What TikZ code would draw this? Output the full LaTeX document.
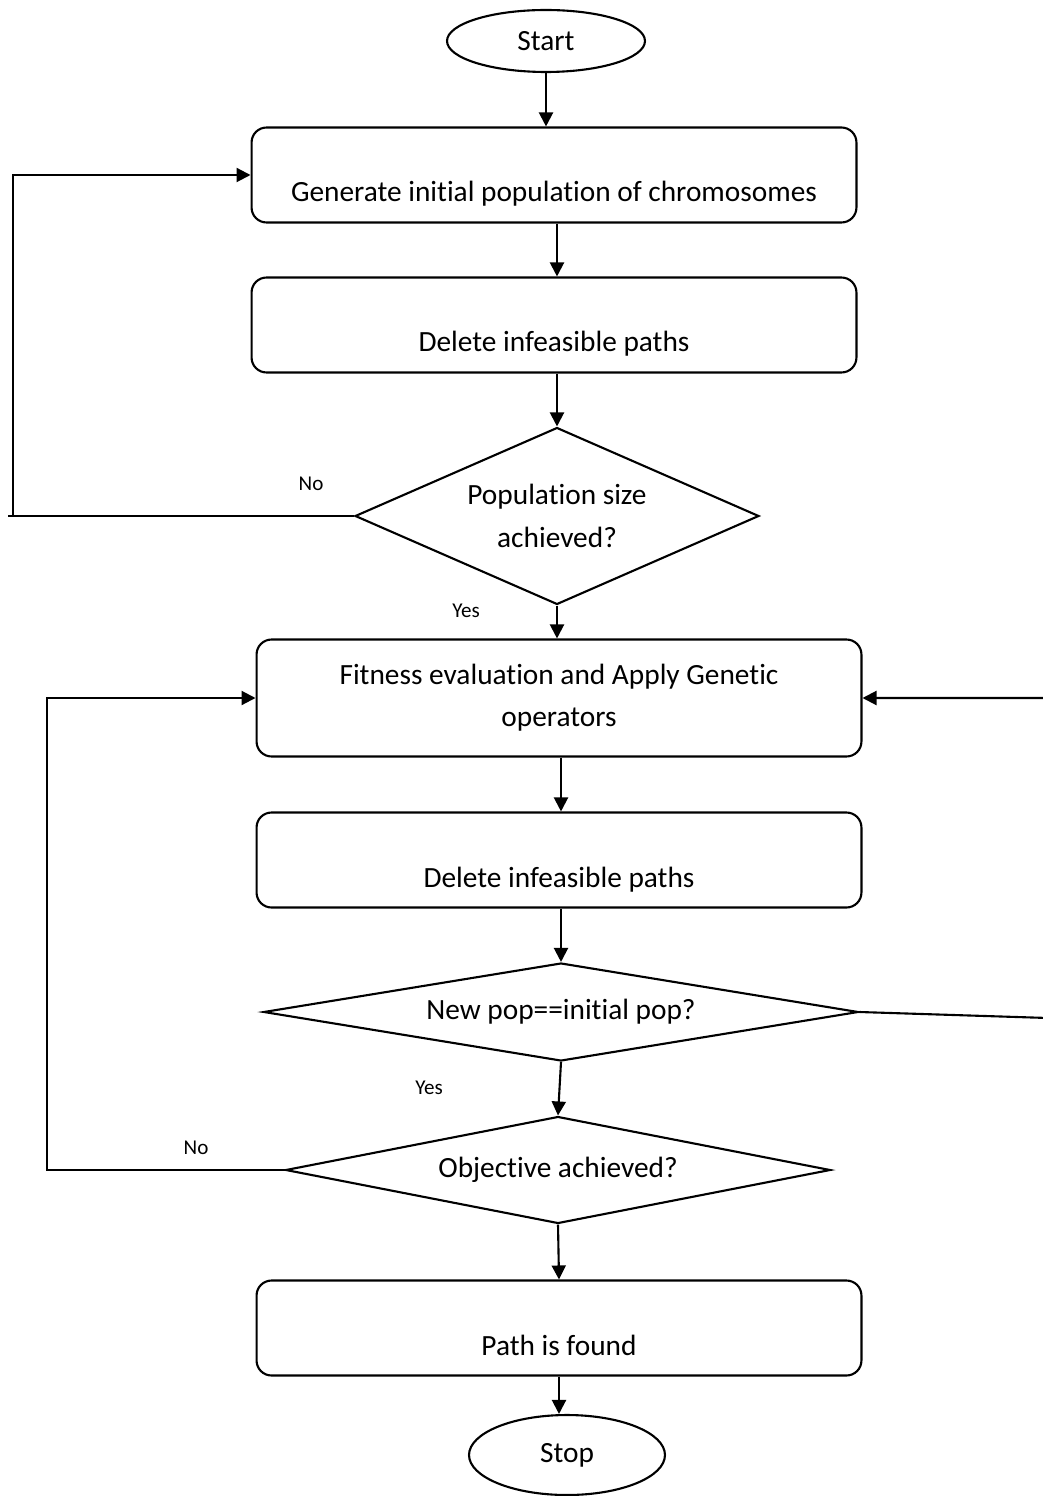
\documentclass[tikz,border=0pt]{standalone}
\usepackage{fontspec}
\setmainfont{Carlito}[Ligatures=NoCommon]
\usetikzlibrary{shapes.geometric,arrows.meta}

\begin{document}
\begin{tikzpicture}[x=0.02cm,y=-0.02cm,line width=1.2pt,
	every node/.style={font=\fontsize{16.7}{24}\selectfont},
	term/.style={draw,ellipse,inner sep=0pt},
	roundbox/.style={draw,rounded corners=0.3cm,minimum width=12.1cm,inner sep=0pt,align=center},
	procbox/.style={roundbox,minimum height=1.9cm,text height=1.48cm,text depth=0.4cm},
	decide/.style={draw,diamond,inner sep=0pt,align=center},
	answer/.style={font=\fontsize{12}{14}\selectfont},
	flow/.style={-{Triangle[length=0.28cm,width=0.28cm]}}]
	\useasboundingbox (0,0) rectangle (1042,1496);
	\node[term,minimum width=3.96cm,minimum height=1.24cm] (start) at (546,41) {Start};
	\node[procbox] (gen) at (554,175) {Generate initial population of chromosomes};
	\node[procbox] (del1) at (554,325) {Delete infeasible paths};
	\node[decide,aspect=2.28,minimum width=8.08cm,minimum height=3.54cm] (pop) at (557,516) {Population size\\achieved?};
	\node[roundbox,minimum height=2.34cm] (fit) at (559,698) {Fitness evaluation and Apply Genetic\\operators};
	\node[procbox] (del2) at (559,860) {Delete infeasible paths};
	\node[decide,aspect=6.07,minimum width=11.9cm,minimum height=1.96cm] (newpop) at (561,1012) {New pop==initial pop?};
	\node[decide,aspect=5.09,minimum width=10.9cm,minimum height=2.14cm] (obj) at (558,1170) {Objective achieved?};
	\node[procbox] (found) at (559,1328) {Path is found};
	\node[term,minimum width=3.92cm,minimum height=1.6cm] (stop) at (567,1455) {Stop};

	\node[answer] (no1) at (311,484) {No};
	\node[answer] (yes1) at (466,611) {Yes};
	\node[answer] (yes2) at (429,1088) {Yes};
	\node[answer] (no2) at (196,1148) {No};

	\draw[flow] (start.south) -- (start.south |- gen.north);
	\draw[flow] (pop.north |- gen.south) -- (pop.north |- del1.north);
	\draw[flow] (pop.north |- del1.south) -- (pop.north);
	\draw[flow] (pop.south) -- (pop.south |- fit.north);
	\draw[flow] (newpop.north |- fit.south) -- (newpop.north |- del2.north);
	\draw[flow] (newpop.north |- del2.south) -- (newpop.north);
	\draw[flow] (newpop.south) -- (obj.north);
	\draw[flow] (obj.south) -- (found.north);
	\draw[flow] (found.south) -- (found.south |- stop.north);

	\coordinate (loopA) at (13,516);
	\coordinate (loopB) at (47,1170);
	\coordinate (loopC) at (1048,1018);
	\draw (pop.west) -- ([xshift=-0.1cm]loopA);
	\draw[flow] (loopA) |- (gen.west);
	\draw[flow] (obj.west) -- (loopB) |- (fit.west);
	\draw[flow] (newpop.east) -- (loopC) |- (fit.east);
\end{tikzpicture}
\end{document}
